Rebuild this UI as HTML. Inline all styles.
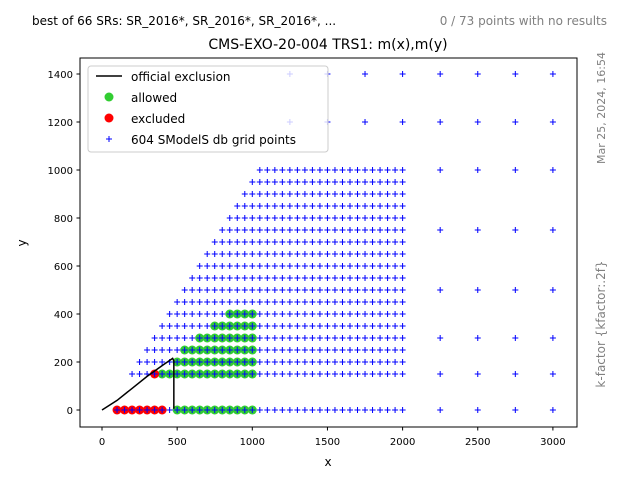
<!DOCTYPE html>
<html><head><meta charset="utf-8"><style>
body{margin:0;background:#fff}
svg{display:block;font-family:"DejaVu Sans","Liberation Sans",sans-serif}
</style></head><body>
<svg id="c" width="640" height="480" xmlns="http://www.w3.org/2000/svg">
<rect width="640" height="480" fill="#fff"/>
<text x="32" y="25" font-size="12" fill="#000">best of 66 SRs: SR_2016*, SR_2016*, SR_2016*, ...</text>
<text x="607" y="25" font-size="12" fill="#808080" text-anchor="end">0 / 73 points with no results</text>
<text x="328" y="49" font-size="14" text-anchor="middle">CMS-EXO-20-004 TRS1: m(x),m(y)</text>
<text transform="translate(605,108) rotate(-90)" font-size="11" fill="#808080" text-anchor="middle">Mar 25, 2024, 16:54</text>
<text transform="translate(605,324) rotate(-90)" font-size="12" fill="#808080" text-anchor="middle">k-factor {kfactor:.2f}</text>
<g id="plot"></g>
<rect x="80" y="58" width="497" height="369" fill="none" stroke="#000" stroke-width="1"/>
<text x="328" y="466" font-size="12" text-anchor="middle">x</text>
<text transform="translate(26,243) rotate(-90)" font-size="12" text-anchor="middle">y</text>
<g>
<rect x="88" y="66" width="240" height="86" rx="3" fill="#fff" fill-opacity="0.8" stroke="#ccc"/>
<line x1="96" y1="76" x2="122" y2="76" stroke="#000" stroke-width="1.5"/>
<text x="131" y="81" font-size="12">official exclusion</text>
<circle cx="109" cy="97" r="4.5" fill="#32cd32"/>
<text x="131" y="102" font-size="12">allowed</text>
<circle cx="109" cy="118" r="4.5" fill="#ff0000"/>
<text x="131" y="123" font-size="12">excluded</text>
<path d="M106 139h6M109 136v6" stroke="#0000ff" stroke-width="1"/>
<text x="131" y="144" font-size="12">604 SModelS db grid points</text>
</g>
</svg>
<script>
const xTicks=[0,500,1000,1500,2000,2500,3000];
const yTicks=[0,200,400,600,800,1000,1200,1400];
const exclX=[0,100,200,300,400,470,478,478];
const exclY=[0,40,90,140,185,215,205,5];
const gridRows=[150,200,250,300,350,400,450,500,550,600,650,700,750,800,850,900,950,1000];
const gridRowStart=[200,250,300,350,400,450,500,550,600,650,700,750,800,850,900,950,1000,1050];
const gridRowEnd=2000;
const bottomRowX=[100,2000];
const sparseX=[2250,2500,2750,3000];
const sparseY=[0,150,300,500,750,1000,1200,1400];
const topX=[1250,1500,1750,2000];
const topY=[1200,1400];
const allowedRows=[0,150,200,250,300,350,400];
const allowedStart=[500,400,500,550,650,750,850];
const allowedEnd=[1000,1000,1000,1000,1000,1000,1000];
const excludedX=[100,150,200,250,300,350,400,350];
const excludedY=[0,0,0,0,0,0,0,150];

const X=v=>102+v*0.1503, Y=v=>410-v*0.24;
const NS="http://www.w3.org/2000/svg";
const g=document.getElementById('plot');
function mk(t,a){const e=document.createElementNS(NS,t);for(const k in a)e.setAttribute(k,a[k]);g.appendChild(e);return e;}
xTicks.forEach(v=>{
 const l=mk('line',{x1:X(v),x2:X(v),y1:427,y2:430.5,stroke:'#000'});
 
 
 const t=mk('text',{x:X(v),y:445,'font-size':10,'text-anchor':'middle'});t.textContent=v;
 
 
});
yTicks.forEach(v=>{
 const l=mk('line',{x1:76.5,x2:80,y1:Y(v),y2:Y(v),stroke:'#000'});
 
 
 const t=mk('text',{x:73,y:Y(v)+4,'font-size':10,'text-anchor':'end'});t.textContent=v;
 
 
});
// allowed
allowedRows.forEach((r,i)=>{for(let x=allowedStart[i];x<=allowedEnd[i];x+=50){
 const c=mk('circle',{cx:X(x),cy:Y(r),r:4.5,fill:'#32cd32'});
 
 
}});
excludedX.forEach((x,i)=>{
 const c=mk('circle',{cx:X(x),cy:Y(excludedY[i]),r:4.5,fill:'#ff0000'});
 
 
});
function plus(x,y){
 const p=mk('path',{d:`M${X(x)-3} ${Y(y)}h6M${X(x)} ${Y(y)-3}v6`,stroke:'#0000ff','stroke-width':1});
 
 
}
gridRows.forEach((r,i)=>{for(let x=gridRowStart[i];x<=gridRowEnd;x+=50)plus(x,r);});
for(let x=bottomRowX[0];x<=bottomRowX[1];x+=50)plus(x,0);
sparseX.forEach(x=>sparseY.forEach(y=>plus(x,y)));
topX.forEach(x=>topY.forEach(y=>plus(x,y)));
const line=mk('polyline',{points:exclX.map((x,i)=>X(x)+','+Y(exclY[i])).join(' '),fill:'none',stroke:'#000','stroke-width':1.5});


</script>
</body></html>
